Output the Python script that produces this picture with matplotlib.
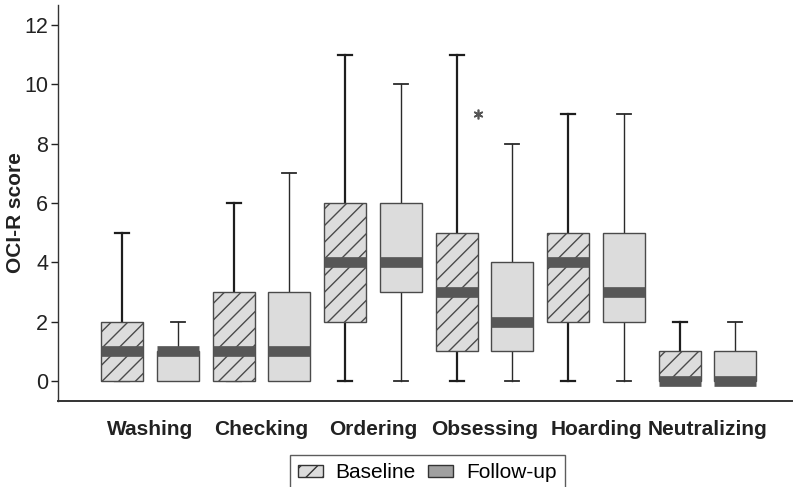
import matplotlib
matplotlib.use("Agg")
import matplotlib.pyplot as plt
from matplotlib.patches import Patch
import numpy as np

plt.rcParams['font.family'] = ['Liberation Sans', 'DejaVu Sans']

# ---- data ----
categories = ['Washing', 'Checking', 'Ordering', 'Obsessing', 'Hoarding', 'Neutralizing']

# each list: min, Q1, median, Q3, max
baseline_min = [0, 0, 0, 0, 0, 0]
baseline_q1 = [0, 0, 2, 1, 2, 0]
baseline_med = [1, 1, 4, 3, 4, 0]
baseline_q3 = [2, 3, 6, 5, 5, 1]
baseline_max = [5, 6, 11, 11, 9, 2]

followup_min = [0, 0, 0, 0, 0, 0]
followup_q1 = [0, 0, 3, 1, 2, 0]
followup_med = [1, 1, 4, 2, 3, 0]
followup_q3 = [1, 3, 6, 4, 5, 1]
followup_max = [2, 7, 10, 8, 9, 2]

# extreme value marked with an asterisk
outlier_cat = 'Obsessing'
outlier_value = 9

series_labels = ['Baseline', 'Follow-up']

# ---- styling ----
BOX_FILL = '#dcdcdc'
BOX_EDGE = '#4a4a4a'
MED_COLOR = '#575757'
OFFSET = 0.25
WIDTH = 0.377


def make_stats(lo, q1, med, q3, hi):
    return [dict(whislo=a, q1=b, med=c, q3=d, whishi=e, fliers=[])
            for a, b, c, d, e in zip(lo, q1, med, q3, hi)]


fig = plt.figure(figsize=(7.96, 4.87), dpi=100)
ax = fig.add_axes([0.0729, 0.1766, 0.9221, 0.8131])

x = np.arange(len(categories))

stats_b = make_stats(baseline_min, baseline_q1, baseline_med, baseline_q3, baseline_max)
stats_f = make_stats(followup_min, followup_q1, followup_med, followup_q3, followup_max)

bp_b = ax.bxp(stats_b, positions=x - OFFSET, widths=WIDTH, capwidths=0.126,
              patch_artist=True, showfliers=False, manage_ticks=False,
              boxprops=dict(facecolor=BOX_FILL, edgecolor=BOX_EDGE, linewidth=1.0, hatch='//'),
              whiskerprops=dict(color='#1e1e1e', linewidth=1.6),
              capprops=dict(color='#1e1e1e', linewidth=1.6),
              medianprops=dict(color=MED_COLOR, linewidth=7.7, solid_capstyle='butt'))
bp_f = ax.bxp(stats_f, positions=x + OFFSET, widths=WIDTH, capwidths=0.126,
              patch_artist=True, showfliers=False, manage_ticks=False,
              boxprops=dict(facecolor=BOX_FILL, edgecolor=BOX_EDGE, linewidth=1.0),
              whiskerprops=dict(color='#2a2a2a', linewidth=1.0),
              capprops=dict(color='#2a2a2a', linewidth=1.3),
              medianprops=dict(color=MED_COLOR, linewidth=7.7, solid_capstyle='butt'))

# whiskers behind boxes
for bp in (bp_b, bp_f):
    for w in bp['whiskers'] + bp['caps']:
        w.set_zorder(1)
    for b in bp['boxes']:
        b.set_zorder(2)
    for m in bp['medians']:
        m.set_zorder(3)

oi = categories.index(outlier_cat)
ax.plot([oi - OFFSET + 0.19], [outlier_value], linestyle='none',
        marker=(6, 2, 0), markersize=7, color='#555555', markeredgewidth=1.2)

ax.set_xlim(-0.825, 5.758)
ax.set_ylim(-0.67, 12.67)
ax.set_yticks([0, 2, 4, 6, 8, 10, 12])
ax.set_xticks(x)
ax.set_xticklabels(categories, fontsize=15, fontweight='bold', color='#222222')
ax.tick_params(axis='x', length=0, pad=14)
ax.tick_params(axis='y', length=5, width=1, pad=2, labelsize=15.5, colors='#222222')

for s in ('top', 'right'):
    ax.spines[s].set_visible(False)
ax.spines['left'].set_color('#333333')
ax.spines['left'].set_linewidth(1.0)
ax.spines['bottom'].set_color('#333333')
ax.spines['bottom'].set_linewidth(1.4)

ax.set_ylabel('OCI-R score', fontsize=15, fontweight='bold', color='#222222')
ax.yaxis.set_label_coords(-0.045, 0.475)

handles = [Patch(facecolor=BOX_FILL, edgecolor='#333333', hatch='//', linewidth=1.0),
           Patch(facecolor='#a0a0a0', edgecolor='#333333', linewidth=1.0)]
leg = fig.legend(handles, series_labels, loc='upper left', ncol=2,
                 bbox_to_anchor=(0.364, 0.066), bbox_transform=fig.transFigure,
                 borderaxespad=0, fontsize=15, frameon=True, fancybox=False,
                 handlelength=1.2, handleheight=0.5, handletextpad=0.6,
                 columnspacing=0.6, borderpad=0.4)
leg.get_frame().set_edgecolor('#333333')
leg.get_frame().set_linewidth(1.0)

fig.savefig('out.png', dpi=100)
